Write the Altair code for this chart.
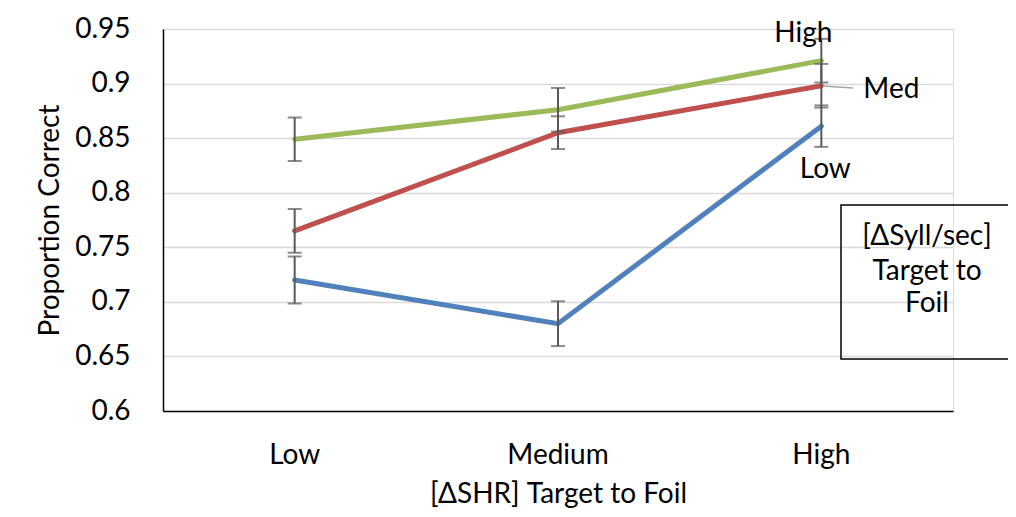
import altair as alt
import pandas as pd

categories = ["Low", "Medium", "High"]
series_names = ["Low", "Med", "High"]
low_vals = [0.720, 0.680, 0.861]
med_vals = [0.765, 0.855, 0.898]
high_vals = [0.849, 0.876, 0.921]
low_err = [0.0215, 0.0205, 0.019]
med_err = [0.020, 0.015, 0.020]
high_err = [0.020, 0.020, 0.020]
y_ticks = [0.6, 0.65, 0.7, 0.75, 0.8, 0.85, 0.9, 0.95]
colors = ["#4F81BD", "#C0504D", "#9BBB59"]
legend_lines = ["[ΔSyll/sec]", "Target to", "Foil"]

rows = []
for name, vals, errs in zip(series_names, [low_vals, med_vals, high_vals], [low_err, med_err, high_err]):
    for c, v, e in zip(categories, vals, errs):
        rows.append({"cat": c, "series": name, "value": v, "lo": v - e, "hi": v + e})
df = pd.DataFrame(rows)

FONT = "Lato"
FS = 28
W, H = 790, 382

xs = alt.X("cat:N", sort=categories, scale=alt.Scale(paddingInner=0, paddingOuter=0),
           axis=alt.Axis(title="[ΔSHR] Target to Foil", labelAngle=0, ticks=False, domain=True,
                         domainColor="#000000", domainWidth=1.5, labelFontSize=FS,
                         labelPadding=30, labelFont=FONT, labelColor="#000000",
                         titleFont=FONT, titleFontSize=FS, titleFontWeight="normal",
                         titleColor="#000000", titleY=91, titleBaseline="alphabetic", grid=False))
ys = alt.Y("value:Q", scale=alt.Scale(domain=[0.6, 0.95], nice=False, zero=False),
           axis=alt.Axis(title="Proportion Correct", values=y_ticks, ticks=False, domain=True,
                         domainColor="#000000", domainWidth=1.5, gridColor="#D9D9D9", gridWidth=1.5,
                         labelFontSize=FS, labelPadding=33, labelFont=FONT, labelColor="#000000",
                         labelExpr="datum.value == 0.6 ? '0.6' : format(datum.value, '.2~f')",
                         titleFont=FONT, titleFontSize=FS, titleFontWeight="normal",
                         titleColor="#000000", titleX=-113, titleY=191, titleAngle=-90,
                         titleAlign="center", titleBaseline="middle"))

color = alt.Color("series:N", sort=series_names,
                  scale=alt.Scale(domain=series_names, range=colors), legend=None)

base = alt.Chart(df)
xc = alt.X("cat:N", sort=categories)

lines = base.mark_line(strokeWidth=5, strokeCap="round").encode(x=xs, y=ys, color=color, detail="series:N")

err = base.mark_rule(color="#595959", strokeWidth=2).encode(x=xc, y="lo:Q", y2="hi:Q")
cap_lo = base.mark_tick(color="#595959", thickness=2, size=14, orient="horizontal").encode(x=xc, y="lo:Q")
cap_hi = base.mark_tick(color="#595959", thickness=2, size=14, orient="horizontal").encode(x=xc, y="hi:Q")

last = df[df["cat"] == "High"]
lab_high = alt.Chart(last[last["series"] == "High"]).mark_text(
    font=FONT, fontSize=FS, color="#000000", dx=-18, dy=-27, baseline="middle").encode(
    x=xc, y="value:Q", text="series:N")
lab_med = alt.Chart(last[last["series"] == "Med"]).mark_text(
    font=FONT, fontSize=FS, color="#000000", dx=70, dy=4, baseline="middle").encode(
    x=xc, y="value:Q", text="series:N")
lab_low = alt.Chart(last[last["series"] == "Low"]).mark_text(
    font=FONT, fontSize=FS, color="#000000", dx=4, dy=44, baseline="middle").encode(
    x=xc, y="value:Q", text="series:N")

leader = alt.Chart(pd.DataFrame({"a": [0]})).mark_rule(color="#A6A6A6", strokeWidth=1.5).encode(
    x=alt.value(660), x2=alt.value(690), y=alt.value(57), y2=alt.value(59))

box = alt.Chart(pd.DataFrame({"a": [0]})).mark_rect(fill=None, stroke="#000000", strokeWidth=1.5).encode(
    x=alt.value(678), x2=alt.value(846), y=alt.value(176), y2=alt.value(330))

leg_layers = []
for t, yy in zip(legend_lines, [208, 243, 275]):
    leg_layers.append(alt.Chart(pd.DataFrame({"t": [t]})).mark_text(
        font=FONT, fontSize=FS, color="#000000", baseline="middle").encode(
        x=alt.value(764), y=alt.value(yy), text="t:N"))

chart = alt.layer(lines, err, cap_lo, cap_hi, lab_high, lab_med, lab_low, leader, box, *leg_layers).properties(
    width=W, height=H,
    autosize=alt.AutoSizeParams(type="none"),
    padding={"left": 155, "top": 21, "right": 55, "bottom": 98},
).configure_view(stroke=None).configure(background="white")

chart.save("out.html", embed_options={"renderer": "svg", "actions": False})
